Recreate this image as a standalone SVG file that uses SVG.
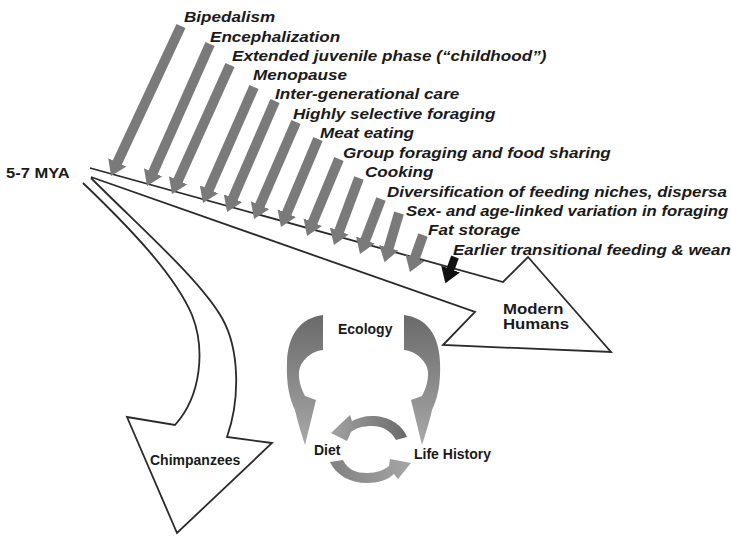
<svg xmlns="http://www.w3.org/2000/svg" width="732" height="538" viewBox="0 0 732 538">
<style>
  .lbl{font-family:"Liberation Sans",Arial,sans-serif;font-weight:bold;font-style:italic;font-size:15px;fill:#1a1a1a}
  .mya{font-family:"Liberation Sans",Arial,sans-serif;font-weight:bold;font-size:14px;fill:#1a1a1a}
  .ctr{font-family:"Liberation Sans",Arial,sans-serif;font-weight:bold;font-size:14px;fill:#1a1a1a}
  .ctrL{font-family:"Liberation Sans",Arial,sans-serif;font-weight:bold;font-size:15px;fill:#1a1a1a}
  .outline{fill:none;stroke:#2a2a2a;stroke-width:1.8;stroke-linejoin:miter}
  .factor{fill:none;stroke:#7a7a7a;stroke-width:10;marker-end:url(#head)}
  .factorDark{fill:none;stroke:#111;stroke-width:8;marker-end:url(#headDark)}
</style>
<defs>
  <marker id="head" viewBox="0 -10 15 20" markerWidth="15" markerHeight="20" refX="1" refY="0" orient="auto" markerUnits="userSpaceOnUse">
    <path d="M0,-10 L15,0 L0,10 Z" fill="#7a7a7a"/>
  </marker>
  <marker id="headDark" viewBox="0 -10 15 20" markerWidth="15" markerHeight="20" refX="1" refY="0" orient="auto" markerUnits="userSpaceOnUse">
    <path d="M0,-10 L15,0 L0,10 Z" fill="#111"/>
  </marker>
  <linearGradient id="gBig" x1="0" y1="0" x2="0" y2="1">
    <stop offset="0" stop-color="#6a6a6a"/>
    <stop offset="1" stop-color="#a8a8a8"/>
  </linearGradient>
  <linearGradient id="gUp" x1="1" y1="0" x2="0" y2="0">
    <stop offset="0" stop-color="#6a6a6a"/>
    <stop offset="1" stop-color="#a2a2a2"/>
  </linearGradient>
  <linearGradient id="gLow" x1="0" y1="0" x2="1" y2="0">
    <stop offset="0" stop-color="#808080"/>
    <stop offset="1" stop-color="#a6a6a6"/>
  </linearGradient>
</defs>
<rect x="0" y="0" width="732" height="538" fill="#ffffff"/>

<g id="lineage-humans">
  <path class="outline" d="M90,168 L503,282 L528,257 L611,352 L443,345 L475,312 L91,177"/>
  <text class="ctrL" transform="translate(503,314) scale(1.12,1)">Modern</text>
  <text class="ctrL" transform="translate(503,329) scale(1.12,1)">Humans</text>
</g>

<g id="lineage-chimpanzees">
  <path class="outline" d="M83,183 C130,228 175,275 192,315 C205,348 202,395 175,425 L127,417 L177,533 L272,443 L227,437 C240,400 240,350 222,318 C200,280 145,232 91,178"/>
  <text class="ctr" x="150" y="465">Chimpanzees</text>
</g>

<g id="node-origin">
  <text class="mya" transform="translate(6,178) scale(1.18,1)">5-7 MYA</text>
</g>

<g id="connectors">
  <line class="factor" x1="181" y1="26" x2="116.9" y2="163.3"/>
  <line class="factor" x1="210" y1="44" x2="152.7" y2="173.2"/>
  <line class="factor" x1="230" y1="65" x2="177.7" y2="181.2"/>
  <line class="factor" x1="254" y1="87" x2="208.6" y2="190.2"/>
  <line class="factor" x1="275" y1="101" x2="232.6" y2="199.1"/>
  <line class="factor" x1="296" y1="122" x2="259.6" y2="206.1"/>
  <line class="factor" x1="318" y1="139" x2="286.4" y2="214.1"/>
  <line class="factor" x1="339" y1="159" x2="312.4" y2="223.1"/>
  <line class="factor" x1="359" y1="178" x2="338.9" y2="231.9"/>
  <line class="factor" x1="381" y1="199" x2="365" y2="240.9"/>
  <line class="factor" x1="399" y1="213" x2="388.5" y2="248.7"/>
  <line class="factor" x1="423" y1="235" x2="414.6" y2="258.8"/>
  <line class="factorDark" x1="455" y1="257" x2="450.2" y2="270"/>
</g>

<g id="factor-labels">
  <g id="node-bipedalism"><text class="lbl" transform="translate(184,22) scale(1.14,1)">Bipedalism</text></g>
  <g id="node-encephalization"><text class="lbl" transform="translate(210,42) scale(1.14,1)">Encephalization</text></g>
  <g id="node-childhood"><text class="lbl" transform="translate(232,61) scale(1.14,1)">Extended juvenile phase (“childhood”)</text></g>
  <g id="node-menopause"><text class="lbl" transform="translate(253,80) scale(1.14,1)">Menopause</text></g>
  <g id="node-intergenerational"><text class="lbl" transform="translate(275,99) scale(1.14,1)">Inter-generational care</text></g>
  <g id="node-selective"><text class="lbl" transform="translate(293,119) scale(1.14,1)">Highly selective foraging</text></g>
  <g id="node-meat"><text class="lbl" transform="translate(320,138) scale(1.14,1)">Meat eating</text></g>
  <g id="node-group"><text class="lbl" transform="translate(343,158) scale(1.14,1)">Group foraging and food sharing</text></g>
  <g id="node-cooking"><text class="lbl" transform="translate(365,177) scale(1.14,1)">Cooking</text></g>
  <g id="node-diversification"><text class="lbl" transform="translate(387,197) scale(1.13,1)">Diversification of feeding niches, dispersa</text></g>
  <g id="node-sexage"><text class="lbl" transform="translate(406,216) scale(1.115,1)">Sex- and age-linked variation in foraging</text></g>
  <g id="node-fat"><text class="lbl" transform="translate(428,235) scale(1.14,1)">Fat storage</text></g>
  <g id="node-weaning"><text class="lbl" transform="translate(453,255) scale(1.13,1)">Earlier transitional feeding &amp; wean</text></g>
</g>

<g id="cycle-connectors">
  <path fill="url(#gBig)" d="M323,315 C300,318 288,335 287,362 C286,385 290,400 295,410 C297,420 301,432 305,445 L316,400 L305,396 C299,385 297,372 301,365 C306,356 314,351 323,350 Z"/>
  <path fill="url(#gBig)" d="M404,315 C427,318 439,335 440,362 C441,385 437,400 432,410 C430,420 426,432 422,445 L411,400 L422,396 C428,385 430,372 426,365 C421,356 413,351 404,350 Z"/>
  <path fill="url(#gUp)" d="M396,440 C390,430 382,426 372,426 C363,426 356,428 351,432 L347,441 L331,433 L350,415 L352,421 C358,418 364,416 372,416 C388,416 402,424 407,437 Z"/>
  <path fill="url(#gLow)" d="M343,460 C348,470 356,473 367,473 C377,473 384,470 389,466 L390,459 L411,463 L398,479 L394,474 C388,480 378,483 367,483 C350,483 336,475 330,462 Z"/>
</g>

<g id="node-ecology"><text class="ctr" x="338" y="334">Ecology</text></g>
<g id="node-diet"><text class="ctr" x="314" y="455">Diet</text></g>
<g id="node-life-history"><text class="ctr" x="414" y="459">Life History</text></g>
</svg>
